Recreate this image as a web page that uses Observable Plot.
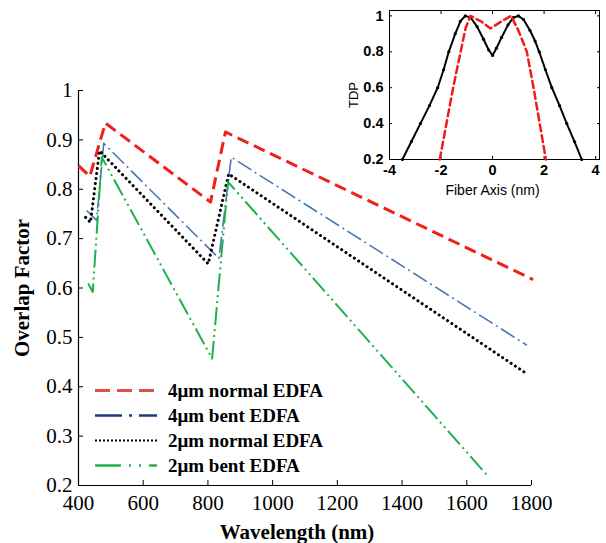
<!DOCTYPE html>
<html><head><meta charset="utf-8">
<script src="https://cdn.jsdelivr.net/npm/d3@7"></script>
<script src="https://cdn.jsdelivr.net/npm/@observablehq/plot@0.6"></script>
<style>
body{margin:0;background:#fff;}
#wrap{position:relative;width:606px;height:543px;overflow:hidden;}
#main{position:absolute;left:0;top:0;}
#inset{position:absolute;left:340px;top:0;}
#legend{position:absolute;left:95px;top:378px;font:bold 19px "Liberation Serif","Times New Roman",serif;color:#000;}
.row{display:flex;align-items:center;height:25px;white-space:nowrap;}
.row svg{margin-right:11px;}
</style></head>
<body><div id="wrap"><div id="main"></div><div id="inset"></div><div id="legend"></div></div>
<script>
// ---- main chart data ----
const seriesNames = ["4μm normal EDFA", "4μm bent EDFA", "2μm normal EDFA", "2μm bent EDFA"];
const red4NormalWl  = [400, 435, 483, 808, 854, 1805];
const red4NormalVal = [0.848, 0.826, 0.934, 0.774, 0.916, 0.617];
const blue4BentWl   = [425, 456, 478, 834, 872, 1786];
const blue4BentVal  = [0.757, 0.737, 0.893, 0.660, 0.865, 0.484];
const black2NormalWl  = [422, 437, 465, 801, 864, 1786];
const black2NormalVal = [0.743, 0.733, 0.878, 0.649, 0.831, 0.426];
const green2BentWl  = [430, 444, 472, 813, 862, 1668];
const green2BentVal = [0.609, 0.592, 0.865, 0.457, 0.815, 0.217];
const xTicks = [400, 600, 800, 1000, 1200, 1400, 1600, 1800];
const yTicks = [0.2, 0.3, 0.4, 0.5, 0.6, 0.7, 0.8, 0.9, 1];
const xLabel = "Wavelength (nm)";
const yLabel = "Overlap Factor";

// ---- inset data ----
const insetBlackX = [-3.5,-3.15,-2.8,-2.45,-2.13,-1.9,-1.7,-1.45,-1.25,-1.06,-0.85,-0.6,-0.35,-0.15,0,0.15,0.35,0.6,0.8,1.0,1.2,1.45,1.65,1.81,2.05,2.3,2.6,2.88,3.18,3.46];
const insetBlackY = [0.2,0.3,0.4,0.5,0.6,0.7,0.8,0.9,0.97,1.0,0.99,0.94,0.87,0.81,0.78,0.82,0.88,0.95,0.99,1.0,0.98,0.92,0.86,0.8,0.7,0.6,0.5,0.4,0.3,0.2];
const insetRedX = [-2.05,-1.79,-1.53,-1.24,-1.05,-0.86,-0.45,-0.08,0.35,0.72,1.0,1.33,1.59,1.83,2.07];
const insetRedY = [0.2,0.4,0.6,0.8,0.93,1.0,0.97,0.93,0.97,1.0,0.92,0.8,0.6,0.4,0.2];
const insetXTicks = [-4, -2, 0, 2, 4];
const insetYTicks = [0.2, 0.4, 0.6, 0.8, 1];
const insetXLabel = "Fiber Axis (nm)";
const insetYLabel = "TDP";

const styles = [
  {color: "#f0201a", width: 3, dash: "12,6", cap: "butt", legColor: "#e05048", legWidth: 3, legDash: "15,7"},
  {color: "#4a77b4", width: 1.6, dash: "16,4,2,4", cap: "butt", legColor: "#1f3d7a", legWidth: 2.5, legDash: "27,7,3,7"},
  {color: "#000000", width: 3, dash: "0.1,5", cap: "round", legColor: "#000", legWidth: 2, legDash: "2,2"},
  {color: "#1db14b", width: 2, dash: "18,4,2,4,2,4", cap: "butt", legColor: "#22b04b", legWidth: 2.5, legDash: "26,8,2,8,2,8"}
];
const seriesData = [
  [red4NormalWl, red4NormalVal],
  [blue4BentWl, blue4BentVal],
  [black2NormalWl, black2NormalVal],
  [green2BentWl, green2BentVal]
].map(([w, v], k) => w.map((x, i) => ({wl: x, val: v[i], series: seriesNames[k]})));

const main = Plot.plot({
  width: 606, height: 543,
  marginLeft: 78, marginRight: 75, marginTop: 90, marginBottom: 58,
  style: {fontFamily: '"Liberation Serif","Times New Roman",serif', fontSize: "21px", color: "#000", background: "transparent", overflow: "visible"},
  x: {domain: [400, 1800]},
  y: {domain: [0.2, 1]},
  marks: [
    Plot.ruleX([400], {stroke: "#000", strokeWidth: 1.2}),
    Plot.ruleY([0.2], {stroke: "#000", strokeWidth: 1.2}),
    Plot.axisX(xTicks, {anchor: "bottom", tickSize: 5, dy: -5, tickPadding: 10, tickFormat: d => String(d), label: null}),
    Plot.axisY(yTicks, {anchor: "left", tickSize: 5, dx: 5, tickPadding: 6, tickFormat: d => String(d), label: null}),
    ...seriesData.map((d, k) => Plot.line(d, {x: "wl", y: "val", stroke: styles[k].color, strokeWidth: styles[k].width, strokeDasharray: styles[k].dash, strokeLinecap: styles[k].cap})),
    Plot.text([yLabel], {frameAnchor: "left", dx: -56, rotate: -90, textAnchor: "middle", lineAnchor: "middle", fontWeight: "bold", fontSize: 21}),
    Plot.text([xLabel], {frameAnchor: "bottom", dy: 47, dx: -8, textAnchor: "middle", lineAnchor: "middle", fontWeight: "bold", fontSize: 21})
  ]
});
document.getElementById("main").appendChild(main);

const blackPts = insetBlackX.map((x, i) => ({x, y: insetBlackY[i]}));
const redPts = insetRedX.map((x, i) => ({x, y: insetRedY[i]}));
const inset = Plot.plot({
  width: 266, height: 200,
  marginLeft: 49, marginRight: 7, marginTop: 10, marginBottom: 41,
  style: {fontFamily: '"Liberation Sans",Arial,sans-serif', fontSize: "14.5px", fontWeight: "bold", color: "#000", background: "transparent", overflow: "visible"},
  x: {domain: [-4, 4.15]},
  y: {domain: [0.2, 1.03]},
  marks: [
    Plot.frame({stroke: "#000", strokeWidth: 1}),
    Plot.axisX(insetXTicks, {anchor: "bottom", tickSize: 3, dy: -3, tickPadding: 5, tickFormat: d => String(d), label: null}),
    Plot.axisX(insetXTicks, {anchor: "top", tickSize: 3, dy: 3, tickFormat: () => "", label: null}),
    Plot.axisY(insetYTicks, {anchor: "left", tickSize: 3, dx: 3, tickPadding: 6, tickFormat: d => String(d), label: null}),
    Plot.axisY(insetYTicks, {anchor: "right", tickSize: 3, dx: -3, tickFormat: () => "", label: null}),
    Plot.line(blackPts, {x: "x", y: "y", stroke: "#000", strokeWidth: 2}),
    Plot.dot(blackPts, {x: "x", y: "y", fill: "#000", r: 1.6}),
    Plot.line(redPts, {x: "x", y: "y", stroke: "#ee1c1c", strokeWidth: 2.5, strokeDasharray: "7,4"}),
    Plot.text([insetYLabel], {frameAnchor: "left", dx: -36, dy: 10, rotate: -90, textAnchor: "middle", lineAnchor: "middle", fontSize: 13, fontWeight: "normal"}),
    Plot.text([insetXLabel], {frameAnchor: "bottom", dx: -2, dy: 31, textAnchor: "middle", lineAnchor: "middle", fontSize: 14, fontWeight: "normal"})
  ]
});
document.getElementById("inset").appendChild(inset);

// legend
const leg = document.getElementById("legend");
seriesNames.forEach((name, k) => {
  const row = document.createElement("div");
  row.className = "row";
  const s = styles[k];
  row.innerHTML = `<svg width="62" height="25"><line x1="0" x2="62" y1="12.5" y2="12.5" stroke="${s.legColor}" stroke-width="${s.legWidth}" stroke-dasharray="${s.legDash}"/></svg><span>${name}</span>`;
  leg.appendChild(row);
});
</script>
</body></html>
